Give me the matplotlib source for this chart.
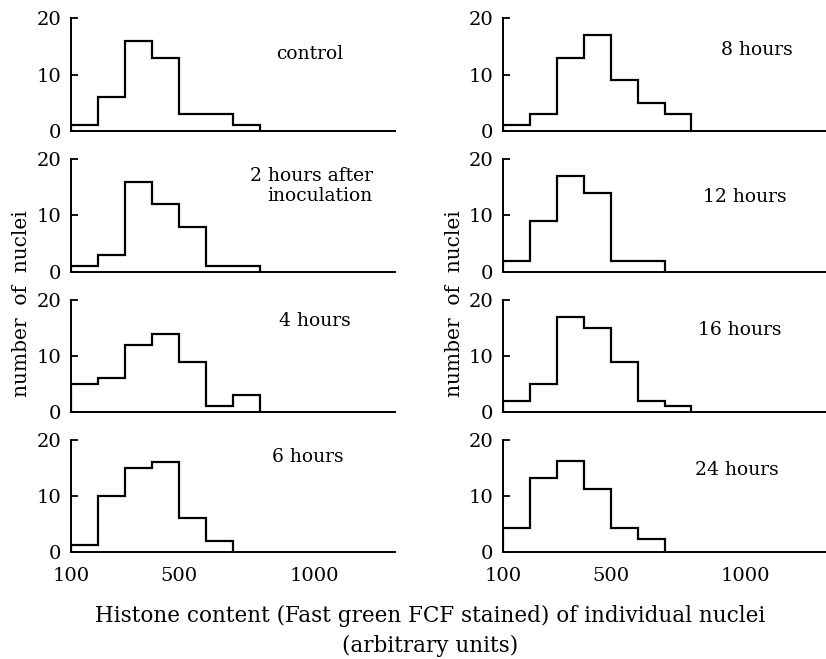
import matplotlib
matplotlib.use("Agg")
import matplotlib.pyplot as plt

plt.rcParams["font.family"] = ["DejaVu Serif"]

# bin edges (arbitrary units), 100-unit classes
EDGES_7 = [100, 200, 300, 400, 500, 600, 700, 800]
EDGES_6 = [100, 200, 300, 400, 500, 600, 700]

control = [1, 6, 16, 13, 3, 3, 1]
h2 = [1, 3, 16, 12, 8, 1, 1]
h4 = [5, 6, 12, 14, 9, 1, 3]
h6 = [1.3, 10, 15, 16, 6, 2]
h8 = [1, 3, 13, 17, 9, 5, 3]
h12 = [2, 9, 17, 14, 2, 2]
h16 = [2, 5, 17, 15, 9, 2, 1]
h24 = [4.3, 13.3, 16.3, 11.3, 4.3, 2.3]

LABELS = ["control", "2 hours after\ninoculation", "4 hours", "6 hours",
          "8 hours", "12 hours", "16 hours", "24 hours"]
SERIES = [control, h2, h4, h6, h8, h12, h16, h24]

X_TICKS = [100, 500, 1000]
Y_TICKS = [0, 10, 20]

W, H = 826, 659
fig = plt.figure(figsize=(W / 100, H / 100), dpi=100)

# pixel geometry of the panels: (left, right) per column, (top, bottom) per row
COLS = [(71, 395), (503, 826)]
ROWS = [(18, 131), (159, 272), (300, 412), (440, 552)]
# label anchor (x px, y px, ha) per panel, vertically centred
LABEL_POS = [(310, 54, "center"), (373, 186, "right"), (315, 321, "center"),
             (308, 457, "center"), (757, 50, "center"), (745, 197, "center"),
             (740, 330, "center"), (737, 470, "center")]

for i, (vals, lab) in enumerate(zip(SERIES, LABELS)):
    c, r = divmod(i, 4)
    x0, x1 = COLS[c]
    y0, y1 = ROWS[r]
    ax = fig.add_axes([x0 / W, 1 - y1 / H, (x1 - x0) / W, (y1 - y0) / H])
    edges = EDGES_7 if len(vals) == 7 else EDGES_6
    ax.stairs(vals, edges, baseline=0, color="black", linewidth=1.6)
    ax.set_xlim(100, 1300)
    ax.set_ylim(0, 20)
    for s in ("top", "right"):
        ax.spines[s].set_visible(False)
    for s in ("left", "bottom"):
        ax.spines[s].set_linewidth(1.4)
    ax.set_yticks(Y_TICKS)
    ax.tick_params(axis="y", direction="in", length=5, width=1.3,
                   labelsize=14, pad=7)
    ax.set_xticks(X_TICKS)
    ax.tick_params(axis="x", length=0, labelsize=14, pad=11)
    if r != 3:
        ax.set_xticklabels([])
    lx, ly, ha = LABEL_POS[i]
    fig.text(lx / W, 1 - ly / H, lab, ha=ha, va="center", fontsize=13.5,
             linespacing=1.2)

for x in (22, 455):
    fig.text(x / W, 1 - 304 / H, "number  of  nuclei", rotation=90,
             ha="center", va="center", fontsize=14.5)

fig.text(430 / W, 1 - 631 / H,
         "Histone content (Fast green FCF stained) of individual nuclei\n"
         "(arbitrary units)",
         ha="center", va="center", fontsize=15.5, linespacing=1.42)

fig.savefig("out.png", dpi=100)
